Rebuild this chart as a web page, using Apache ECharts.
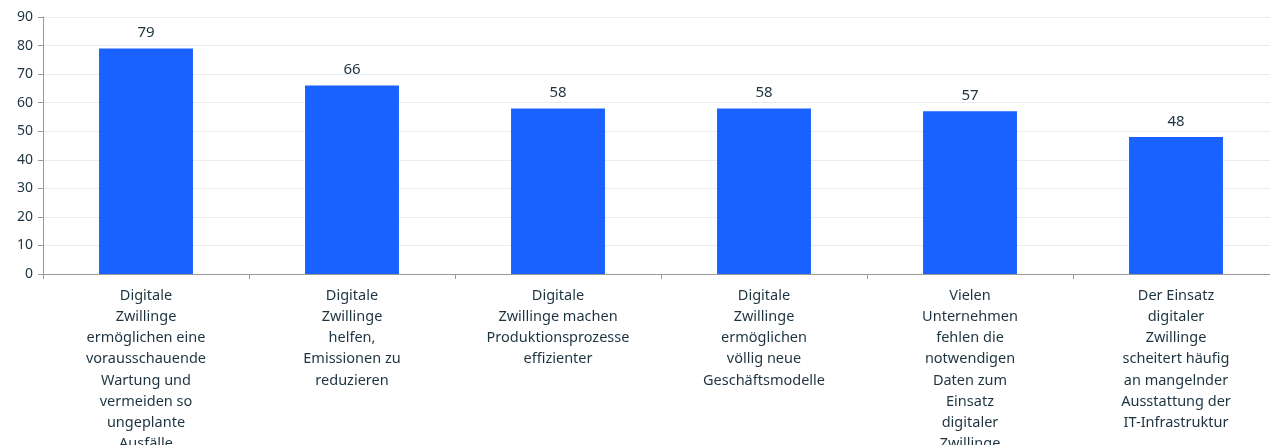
<!DOCTYPE html>
<html>
<head>
<meta charset="utf-8">
<script src="https://cdn.jsdelivr.net/npm/echarts@6/dist/echarts.min.js"></script>
<style>
  html, body { margin: 0; padding: 0; background: #fff; }
  #chart { width: 1270px; height: 445px; }
</style>
</head>
<body>
<div id="chart"></div>
<script>
  var categories = [
    "Digitale\nZwillinge\nermöglichen eine\nvorausschauende\nWartung und\nvermeiden so\nungeplante\nAusfälle",
    "Digitale\nZwillinge\nhelfen,\nEmissionen zu\nreduzieren",
    "Digitale\nZwillinge machen\nProduktionsprozesse\neffizienter",
    "Digitale\nZwillinge\nermöglichen\nvöllig neue\nGeschäftsmodelle",
    "Vielen\nUnternehmen\nfehlen die\nnotwendigen\nDaten zum\nEinsatz\ndigitaler\nZwillinge",
    "Der Einsatz\ndigitaler\nZwillinge\nscheitert häufig\nan mangelnder\nAusstattung der\nIT-Infrastruktur"
  ];
  var values = [79, 66, 58, 58, 57, 48];

  var textColor = "#1d3440";
  var chart = echarts.init(document.getElementById("chart"));
  chart.setOption({
    animation: false,
    textStyle: { fontFamily: "Noto Sans" },
    grid: { left: 43, right: -9, top: 17, bottom: 171, outerBoundsMode: "none", containLabel: false },
    xAxis: {
      type: "category",
      data: categories,
      axisLine: { lineStyle: { color: "#9a9a9a" } },
      axisTick: { show: true, length: 5, lineStyle: { color: "#9a9a9a" } },
      axisLabel: {
        interval: 0,
        margin: 11,
        color: textColor,
        fontSize: 14.5,
        lineHeight: 21.2,
        align: "center"
      }
    },
    yAxis: {
      type: "value",
      min: 0,
      max: 90,
      interval: 10,
      axisLine: { show: true, lineStyle: { color: "#9a9a9a" } },
      axisTick: { show: true, length: 5, lineStyle: { color: "#9a9a9a" } },
      axisLabel: { color: textColor, fontSize: 14, margin: 10 },
      splitLine: { lineStyle: { color: "#e8ebef" } }
    },
    series: [{
      type: "bar",
      data: values,
      barWidth: "45.6%",
      itemStyle: { color: "#1a62ff" },
      label: {
        show: true,
        position: "top",
        distance: 8,
        color: textColor,
        fontSize: 15
      }
    }]
  });
</script>
</body>
</html>
